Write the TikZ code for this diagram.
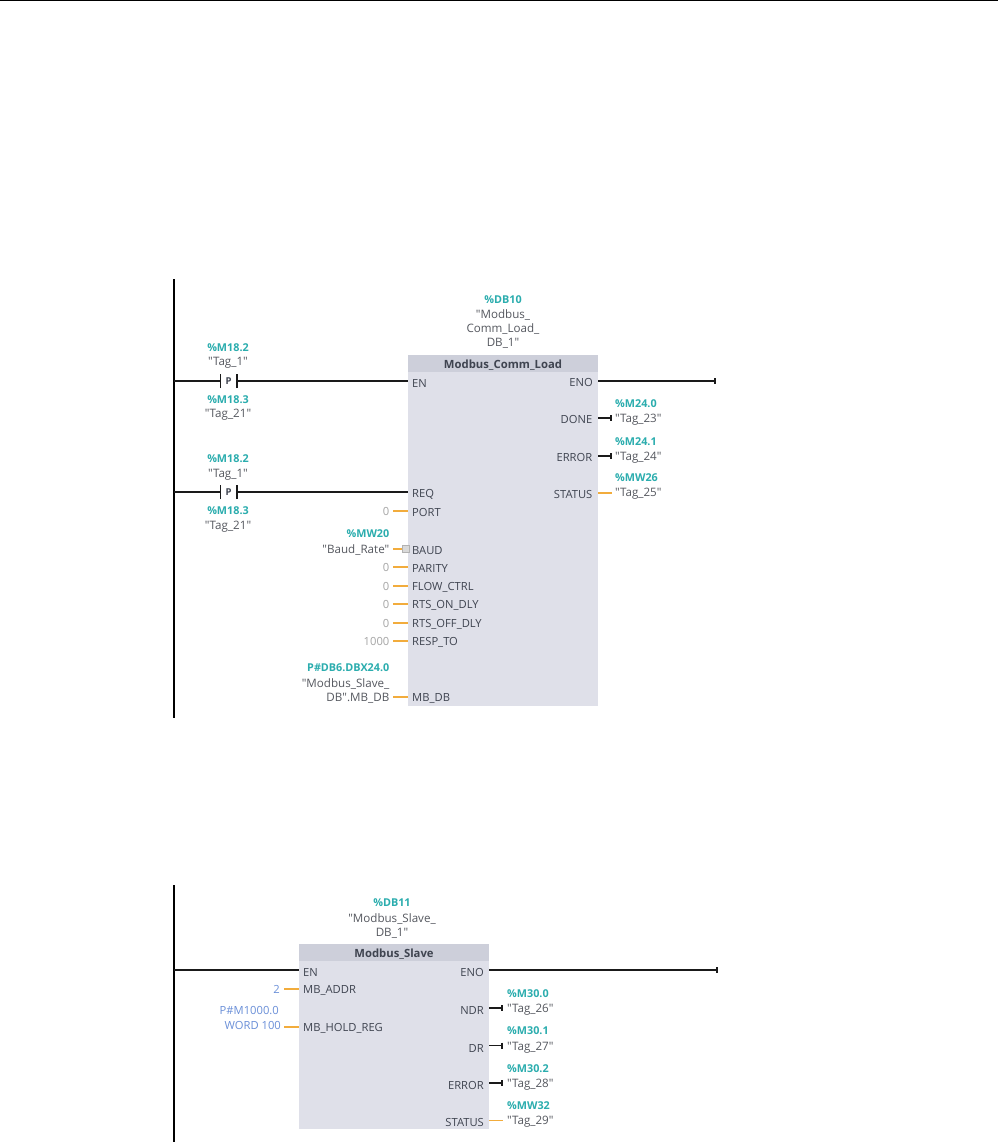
\documentclass[tikz,border=0pt]{standalone}
\usepackage{fontspec}
\usetikzlibrary{arrows.meta}
\newfontfamily\opn{Open Sans}
\definecolor{pintxt}{HTML}{3F4450}
\definecolor{tagtxt}{HTML}{55585F}
\definecolor{teal}{HTML}{2BADAE}
\definecolor{wire}{HTML}{1A1A1A}
\definecolor{orng}{HTML}{F2AC3C}
\definecolor{boxf}{HTML}{DFE0E9}
\definecolor{headf}{HTML}{CDCFDA}
\definecolor{blueval}{HTML}{6A8FD8}
\definecolor{greyval}{HTML}{A5A5A5}
\newcommand{\pinfont}{\opn\fontsize{11.2}{13}\selectfont}
\newcommand{\tagfont}{\opn\fontsize{11.6}{13}\selectfont}
\newcommand{\addrfont}{\opn\fontsize{10.8}{13}\selectfont\bfseries}
\tikzset{
  fbox/.style={draw=none,fill=boxf,inner sep=0pt,outer sep=0pt,minimum width=190pt,anchor=north west},
  fhead/.style={draw=none,fill=headf,inner sep=0pt,outer sep=0pt,minimum width=190pt,anchor=north west,text height=9.5pt,text depth=0pt,font={\opn\fontsize{11.3}{13}\selectfont\bfseries},text=pintxt},
  rail/.style={draw=black,line width=1.5pt},
  rung/.style={draw=wire,line width=1.6pt},
  tickend/.style={rung,-{Bar[width=6pt,line width=1.6pt]}},
  oline/.style={draw=orng,line width=1.5pt},
  pinl/.style={inner sep=0pt,anchor=west,yshift=-0.7pt,font=\pinfont,text=pintxt},
  pinr/.style={inner sep=0pt,anchor=east,yshift=-0.7pt,font=\pinfont,text=pintxt},
  tagl/.style={inner sep=0pt,anchor=west,yshift=-2pt,font=\tagfont,text=tagtxt},
  tagr/.style={inner sep=0pt,anchor=east,yshift=-2pt,font=\tagfont,text=tagtxt},
  tagc/.style={inner sep=0pt,yshift=-2pt,font=\tagfont,text=tagtxt},
  addrc/.style={inner sep=0pt,yshift=-0.8pt,font=\addrfont,text=teal},
  addrl/.style={addrc,anchor=west},
  addrr/.style={addrc,anchor=east},
  valg/.style={inner sep=0pt,anchor=east,font=\pinfont,text=greyval},
  valb/.style={inner sep=0pt,anchor=east,font=\pinfont,text=blueval},
  pchar/.style={inner sep=0pt,font={\opn\fontsize{9.5}{11}\selectfont\bfseries},text=pintxt},
}
\begin{document}
\begin{tikzpicture}[x=1pt,y=-1pt]
\useasboundingbox (0,0) rectangle (998,1142);
\fill[white] (0,0) rectangle (998,1142);
\coordinate (tl) at (0,1); \coordinate (tr) at (998,1);
\draw[black,line width=1pt] (tl) -- (tr);
% ---------- network 1
\coordinate (r1t) at (174,279); \coordinate (r1b) at (174,718);
\draw[rail] (r1t) -- (r1b);
\node[fbox,minimum height=351pt] (box1) at (408,355) {};
\node[fhead,minimum height=17pt] (head1) at (408,355) {Modbus\_Comm\_Load};
\node[addrc] (db10) at (503,299) {\%DB10};
\node[tagc] (db10a) at (503,313) {"Modbus\_};
\node[tagc] (db10b) at (503,327) {Comm\_Load\_};
\node[tagc] (db10c) at (503,341) {DB\_1"};
% contact 1
\node[addrc] (c1a) at (228,347) {\%M18.2};
\node[tagc] (c1b) at (228,361) {"Tag\_1"};
\node[addrc] (c1c) at (228,399) {\%M18.3};
\node[tagc] (c1d) at (228,413) {"Tag\_21"};
\node[pchar] (c1p) at (228.5,381) {P};
\coordinate (c1l) at (220.5,381); \coordinate (c1r) at (237,381);
\coordinate (c1s) at (174,381); \coordinate (c1e) at (408,381);
\draw[rung] (c1s) -- (c1l); \draw[rung] (c1r) -- (c1e);
\draw[rung] ([yshift=-7pt]c1l) -- ([yshift=7pt]c1l);
\draw[rung] ([yshift=-7pt]c1r) -- ([yshift=7pt]c1r);
% contact 2
\node[addrc] (c2a) at (228,458) {\%M18.2};
\node[tagc] (c2b) at (228,473) {"Tag\_1"};
\node[addrc] (c2c) at (228,510) {\%M18.3};
\node[tagc] (c2d) at (228,525) {"Tag\_21"};
\node[pchar] (c2p) at (228.5,492) {P};
\coordinate (c2l) at (220.5,492); \coordinate (c2r) at (237,492);
\coordinate (c2s) at (174,492); \coordinate (c2e) at (408,492);
\draw[rung] (c2s) -- (c2l); \draw[rung] (c2r) -- (c2e);
\draw[rung] ([yshift=-7pt]c2l) -- ([yshift=7pt]c2l);
\draw[rung] ([yshift=-7pt]c2r) -- ([yshift=7pt]c2r);
% inputs box 1
\node[pinl] (en1) at (412,383) {EN};
\node[pinl] (req) at (412,494) {REQ};
\foreach \nm/\yy/\tx/\vv in {port/512/PORT/0,parity/568/PARITY/0,flow/587/FLOW\_CTRL/0,rtson/605/RTS\_ON\_DLY/0,rtsoff/624/RTS\_OFF\_DLY/0,resp/642/RESP\_TO/1000}{
  \node[pinl] (\nm) at (412,\yy) {\tx};
  \node[valg] (v\nm) at (389.5,\yy-1) {\vv};
  \coordinate (s\nm) at (393,\yy-1); \coordinate (e\nm) at (408,\yy-1);
  \draw[oline] (s\nm) -- (e\nm);
}
\node[pinl] (baud) at (412,550) {BAUD};
\node[addrr] (mw20) at (389.5,533) {\%MW20};
\node[tagr] (brate) at (389.5,548) {"Baud\_Rate"};
\coordinate (sbaud) at (393,549); \coordinate (ebaud) at (403,549);
\draw[oline] (sbaud) -- (ebaud);
\node[draw=white!70!black,fill=white!85!black,line width=.6pt,minimum size=6.5pt,inner sep=0pt] (chk) at (406,549) {};
\node[pinl] (mbdb) at (412,698) {MB\_DB};
\node[addrr] (mba) at (389.5,667) {P\#DB6.DBX24.0};
\node[tagr] (mbb) at (389.5,682) {"Modbus\_Slave\_};
\node[tagr] (mbc) at (389.5,696) {DB".MB\_DB};
\coordinate (smb) at (393,697); \coordinate (emb) at (408,697);
\draw[oline] (smb) -- (emb);
% outputs box 1
\node[pinr] (eno1) at (593,382) {ENO};
\coordinate (eno1s) at (598,381); \coordinate (eno1e) at (716,381);
\draw[tickend] (eno1s) -- (eno1e);
\foreach \nm/\yy/\tx/\ad/\tg in {done/418/DONE/\%M24.0/"Tag\_23",err1/456/ERROR/\%M24.1/"Tag\_24"}{
  \node[pinr] (\nm) at (592.5,\yy+1) {\tx};
  \coordinate (s\nm) at (598,\yy); \coordinate (e\nm) at (612,\yy);
  \draw[tickend] (s\nm) -- (e\nm);
  \node[tagl] (t\nm) at (615,\yy) {\tg};
  \node[addrl] (a\nm) at (615,\yy-15.5) {\ad};
}
\node[pinr] (stat1) at (592.5,494) {STATUS};
\coordinate (sstat1) at (598,493); \coordinate (estat1) at (612,493);
\draw[oline] (sstat1) -- (estat1);
\node[tagl] (tstat1) at (615,492) {"Tag\_25"};
\node[addrl] (astat1) at (615,477) {\%MW26};
% ---------- network 2
\coordinate (r2t) at (174,885); \coordinate (r2b) at (174,1142);
\draw[rail] (r2t) -- (r2b);
\node[fbox,minimum height=185pt] (box2) at (299,944) {};
\node[fhead,minimum height=17pt] (head2) at (299,944) {Modbus\_Slave};
\node[addrc] (db11) at (392,902) {\%DB11};
\node[tagc] (db11a) at (392,917) {"Modbus\_Slave\_};
\node[tagc] (db11b) at (392,931) {DB\_1"};
\node[pinl] (en2) at (303,972) {EN};
\coordinate (en2s) at (174,970); \coordinate (en2e) at (299,970);
\draw[rung] (en2s) -- (en2e);
\node[pinl] (addr) at (303,990) {MB\_ADDR};
\node[valb] (vaddr) at (280,989) {2};
\coordinate (saddr) at (284,989); \coordinate (eaddr) at (299,989);
\draw[oline] (saddr) -- (eaddr);
\node[pinl] (hold) at (303,1028) {MB\_HOLD\_REG};
\node[valb] (vh1) at (279,1011) {P\#M1000.0};
\node[valb] (vh2) at (281,1025) {WORD 100};
\coordinate (shold) at (284,1027); \coordinate (ehold) at (299,1027);
\draw[oline] (shold) -- (ehold);
\node[pinr] (eno2) at (484,972) {ENO};
\coordinate (eno2s) at (489,970); \coordinate (eno2e) at (718,970);
\draw[tickend] (eno2s) -- (eno2e);
\foreach \nm/\yy/\tx/\ad/\tg in {ndr/1008/NDR/\%M30.0/"Tag\_26",dr/1045.5/DR/\%M30.1/"Tag\_27",err2/1083/ERROR/\%M30.2/"Tag\_28"}{
  \node[pinr] (\nm) at (484,\yy+2) {\tx};
  \coordinate (s\nm) at (489,\yy); \coordinate (e\nm) at (503,\yy);
  \draw[tickend] (s\nm) -- (e\nm);
  \node[tagl] (t\nm) at (507,\yy) {\tg};
  \node[addrl] (a\nm) at (507,\yy-15.5) {\ad};
}
\node[pinr] (stat2) at (484,1122) {STATUS};
\coordinate (sstat2) at (489,1120.5); \coordinate (estat2) at (503,1120.5);
\draw[oline] (sstat2) -- (estat2);
\node[tagl] (tstat2) at (507,1120) {"Tag\_29"};
\node[addrl] (astat2) at (507,1104.5) {\%MW32};
\end{tikzpicture}
\end{document}
